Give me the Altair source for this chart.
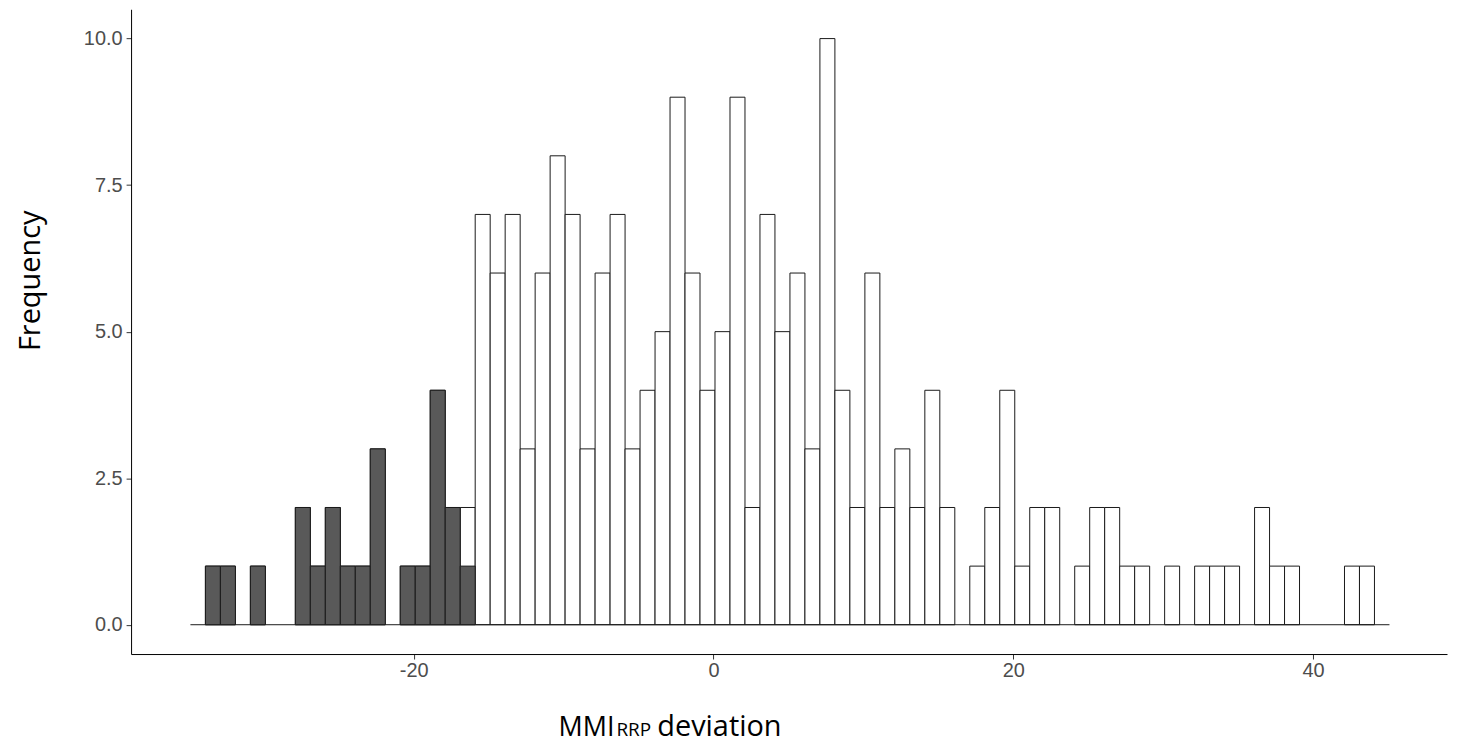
import altair as alt
import pandas as pd

# Histogram bins (width 1) starting at first_edge
first_edge = -34.9
bin_width = 1.0

# Total counts per bin (white bars)
total_counts = [0,
    1, 1, 0, 1, 0, 0, 2, 1, 2, 1,
    1, 3, 0, 1, 1, 4, 2, 2, 7, 6,
    7, 3, 6, 8, 7, 3, 6, 7, 3, 4,
    5, 9, 6, 4, 5, 9, 2, 7, 5, 6,
    3, 10, 4, 2, 6, 2, 3, 2, 4, 2,
    0, 1, 2, 4, 1, 2, 2, 0, 1, 2,
    2, 1, 1, 0, 1, 0, 1, 1, 1, 0,
    2, 1, 1, 0, 0, 0, 1, 1, 0]

# Counts of the highlighted (dark) subset per bin
dark_counts = [0,
    1, 1, 0, 1, 0, 0, 2, 1, 2, 1,
    1, 3, 0, 1, 1, 4, 2, 1] + [0] * 61

x_ticks = [-20, 0, 20, 40]
y_ticks = [0, 2.5, 5, 7.5, 10]
x_title_parts = ["MMI", "RRP", "deviation"]
y_title = "Frequency"

starts = [first_edge + i * bin_width for i in range(len(total_counts))]
df = pd.DataFrame({
    "start": starts,
    "end": [s + bin_width for s in starts],
    "total": total_counts,
    "dark": dark_counts,
})
df_range = pd.DataFrame({"lo": [starts[0]], "hi": [starts[-1] + bin_width]})

W, H = 1320.5, 647

xscale = alt.Scale(domain=[-38.86, 48.94], nice=False, zero=False)
yscale = alt.Scale(domain=[-0.5, 10.5], nice=False, zero=False)

lab_font = "Liberation Sans"
ttl_font = "Open Sans"

xaxis = alt.Axis(values=x_ticks, title="", grid=False, labelFont=lab_font,
                 labelFontSize=20, labelColor="#4D4D4D", tickColor="#333333",
                 tickSize=5, tickWidth=1, domainColor="#000000", domainWidth=1,
                 labelPadding=2, labelExpr="'' + datum.value")
yaxis = alt.Axis(values=y_ticks, title=y_title, grid=False, labelFont=lab_font,
                 labelFontSize=20, labelColor="#4D4D4D", tickColor="#333333",
                 tickSize=5, tickWidth=1, domainColor="#000000", domainWidth=1,
                 labelPadding=4, format=".1f",
                 titleFont=ttl_font, titleFontSize=29, titleFontWeight="normal",
                 titleColor="#000000", titleAngle=270, titleX=-92, titleY=272,
                 titleAlign="center", titleBaseline="alphabetic")

base = alt.Chart(df)

white = base.transform_filter("datum.total > 0").mark_rect(
    fill="#FFFFFF", stroke="#1a1a1a", strokeWidth=1
).encode(
    x=alt.X("start:Q", scale=xscale, axis=xaxis),
    x2="end:Q",
    y=alt.Y("total:Q", scale=yscale, axis=yaxis),
    y2=alt.datum(0),
)

dark = base.transform_filter("datum.dark > 0").mark_rect(
    fill="#595959", stroke="#1a1a1a", strokeWidth=1
).encode(
    x="start:Q",
    x2="end:Q",
    y="dark:Q",
    y2=alt.datum(0),
)

baseline = alt.Chart(df_range).mark_rule(color="#1a1a1a", strokeWidth=1).encode(
    x="lo:Q", x2="hi:Q", y=alt.datum(0)
)

title_y = 729
t1 = alt.Chart(pd.DataFrame({"t": [x_title_parts[0]]})).mark_text(
    font=ttl_font, fontSize=27, align="left", baseline="alphabetic", color="#000000"
).encode(text="t:N", x=alt.value(429), y=alt.value(title_y))
t2 = alt.Chart(pd.DataFrame({"t": [x_title_parts[1]]})).mark_text(
    font=ttl_font, fontSize=19, align="left", baseline="alphabetic", color="#000000"
).encode(text="t:N", x=alt.value(487), y=alt.value(title_y))
t3 = alt.Chart(pd.DataFrame({"t": [x_title_parts[2]]})).mark_text(
    font=ttl_font, fontSize=29, align="left", baseline="alphabetic", color="#000000"
).encode(text="t:N", x=alt.value(528), y=alt.value(title_y))

chart = alt.layer(white, baseline, dark, t1, t2, t3).properties(
    width=W, height=H,
    autosize=alt.AutoSizeParams(type="none"),
    padding={"left": 123.5, "top": 0, "right": 2, "bottom": 88},
    background="#FFFFFF",
).configure_view(strokeWidth=0)

chart.save("out.html", embed_options={"renderer": "svg", "actions": False})
